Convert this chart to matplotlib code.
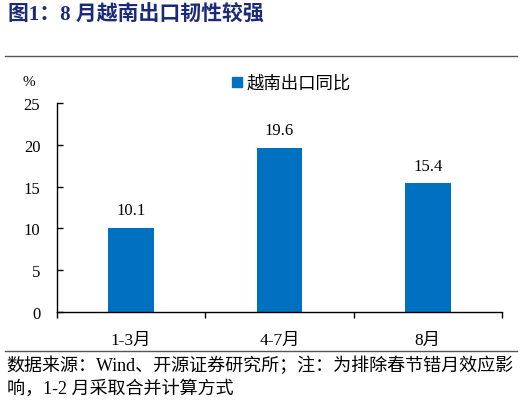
import matplotlib
matplotlib.use("Agg")
import matplotlib.pyplot as plt
from matplotlib.lines import Line2D
import numpy as np

plt.rcParams['font.family'] = ['Liberation Serif', 'Noto Sans CJK SC']

# 数据
categories = ['1-3月', '4-7月', '8月']
values = [10.1, 19.6, 15.4]
yticks = [0, 5, 10, 15, 20, 25]
series_name = '越南出口同比'
title = '图1：8 月越南出口韧性较强'
source = '数据来源：Wind、开源证券研究所；注：为排除春节错月效应影\n响，1-2 月采取合并计算方式'

bar_color = '#0070C0'
title_color = '#1B2A7A'

fig = plt.figure(figsize=(5.22, 4.02), dpi=100)
ax = fig.add_axes([0.1092, 0.2214, 0.8525, 0.5199])

x = np.arange(len(categories))
ax.bar(x, values, width=0.31, color=bar_color, zorder=2)
for xi, v in zip(x, values):
    ax.annotate(f'{v:.1f}', (xi, v), xytext=(0, 7), textcoords='offset points',
                ha='center', va='bottom', fontsize=12)

ax.set_xlim(-0.5, len(categories) - 0.5)
ax.set_ylim(0, 25)
ax.set_yticks(yticks)
ax.set_yticklabels([str(t) for t in yticks], fontsize=12)
# 分类之间的刻度线
ax.set_xticks([0.5 + i for i in range(-1, len(categories))])
ax.set_xticklabels([])
ax.tick_params(axis='x', which='major', direction='out', length=4, width=1)
ax.set_xticks(x, minor=True)
ax.set_xticklabels(categories, minor=True, fontsize=12.5)
ax.tick_params(axis='x', which='minor', length=0, pad=14)
ax.tick_params(axis='y', direction='in', length=4, width=1, pad=12)
for s in ['top', 'right']:
    ax.spines[s].set_visible(False)
ax.spines['left'].set_linewidth(1)
ax.spines['bottom'].set_linewidth(1)

# 单位
fig.text(0.056, 0.794, '%', fontsize=11, ha='center', va='center')

# 图例
handle = Line2D([], [], marker='s', color=bar_color, linestyle='none', markersize=7)
fig.legend([handle], [series_name], loc='center left', bbox_to_anchor=(0.41, 0.79),
           frameon=False, fontsize=12.5, handletextpad=0.2, handlelength=0.8)

# 标题
fig.text(0.015, 0.96, title, fontsize=15, fontweight='bold', color=title_color,
         ha='left', va='center')
fig.add_artist(Line2D([0.01, 0.99], [0.858, 0.858], color='#555555', linewidth=1))

# 数据来源
fig.add_artist(Line2D([0.01, 0.99], [0.124, 0.124], color='#555555', linewidth=1))
fig.text(0.013, 0.062, source, fontsize=13, ha='left', va='center', linespacing=1.35)

fig.savefig('out.png', dpi=100)
